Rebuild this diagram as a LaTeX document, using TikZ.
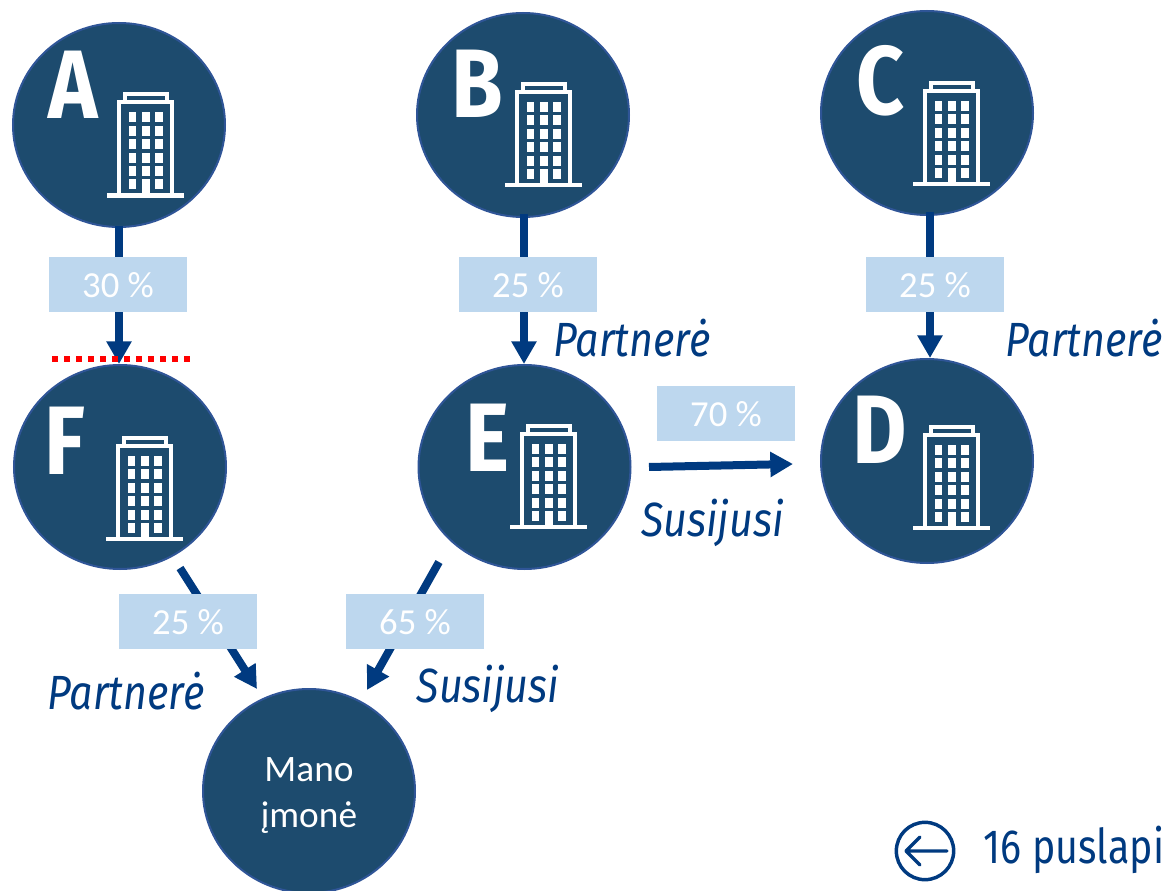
\documentclass[tikz,border=0pt]{standalone}
\usepackage{fontspec}
\usepackage{tikz}
\usetikzlibrary{arrows.meta,shapes.geometric}
\setmainfont{Carlito}
\newfontfamily\narrowfont[FakeStretch=0.82]{Fira Sans}
\newfontfamily\kindfont[FakeStretch=0.86]{Fira Sans}
\newfontfamily\letterfont[FakeStretch=0.86]{Fira Sans}

\definecolor{circlefill}{HTML}{1D4B6E}
\definecolor{circleedge}{HTML}{2F5597}
\definecolor{arrowblue}{HTML}{003A80}
\definecolor{boxblue}{HTML}{BDD7EE}

% office block, (#1,#2) is the left end of the base bar
\newcommand{\building}[2]{
\begin{scope}[shift={(#1,#2)}]
\draw[white,line width=3.3pt] (0,0) -- (77,0);
\draw[white,line width=3pt] (12,0) -- (12,-93) -- (65,-93) -- (65,0);
\draw[white,line width=3pt] (17.5,-93) -- (17.5,-101) -- (59.5,-101) -- (59.5,-93);
\foreach \y in {0,...,5} {
\foreach \x in {0,1,2} {
\fill[white] (21.7+13.3*\x,-83+13.4*\y) rectangle +(7.5,10);
}
}
\fill[white] (35,-16) rectangle (42.5,0);
\end{scope}
}

\tikzset{
firm/.style={draw=circleedge,line width=1.5pt,fill=circlefill,ellipse,inner sep=0pt,
  minimum width=159pt,minimum height=153pt,text=white,align=center,font=\fontsize{28}{34.5}\selectfont},
letter/.style={text=white,inner sep=0pt,font=\letterfont\bfseries\fontsize{73}{73}\selectfont},
share/.style={fill=boxblue,text=white,inner sep=0pt,minimum width=103.5pt,minimum height=41pt,
  text height=19pt,text depth=0pt,font=\fontsize{27.5}{27.5}\selectfont},
kind/.style={text=arrowblue,inner sep=0pt,font=\kindfont\itshape\fontsize{36}{36}\selectfont},
link/.style={draw=arrowblue,line width=6pt,-{Triangle[width=18pt,length=17pt]}},
}

\begin{document}
\begin{tikzpicture}[x=0.75pt,y=-0.75pt]
\useasboundingbox (0,0) rectangle (1165,891);

\node[firm] (A) at (119,125) {};
\node[firm] (B) at (523,115) {};
\node[firm] (C) at (927,113) {};
\node[firm] (F) at (120,467) {};
\node[firm] (E) at (524.5,467) {};
\node[firm] (D) at (927,461) {};
\node[firm] (mano) at (309,791) {\rule{0pt}{25.5pt}Mano\\įmonė};

\node[letter] (lA) at (73,85) {A};
\node[letter] (lB) at (477,84) {B};
\node[letter] (lC) at (881,81) {C};
\node[letter] (lF) at (65,441) {F};
\node[letter] (lE) at (488,438) {E};
\node[letter] (lD) at (880,430) {D};

\building{107}{195.5}
\building{505}{185}
\building{913}{184}
\building{106}{539}
\building{510}{527}
\building{913}{528}

\coordinate (Aout) at (119,226);
\coordinate (Fin) at (119,364);
\coordinate (Bout) at (524,214);
\coordinate (Ein) at (524,364);
\coordinate (Cout) at (930,212);
\coordinate (Din) at (930,358);
\coordinate (Eout) at (649,467);
\coordinate (Dleft) at (793,464);
\coordinate (Fout) at (180,568);
\coordinate (manoF) at (257,689);
\coordinate (Edown) at (439,562);
\coordinate (manoE) at (367,690);

\draw[link] (Aout) -- (Fin);
\draw[link] (Bout) -- (Ein);
\draw[link] (Cout) -- (Din);
\draw[link] (Eout) -- (Dleft);
\draw[link] (Fout) -- (manoF);
\draw[link] (Edown) -- (manoE);

\coordinate (redL) at (52,359);
\coordinate (redR) at (190,359);
\draw[red,line width=4.5pt,dash pattern=on 4.5pt off 4.5pt] (redL) -- (redR);

\node[share] (s30) at (118,284.5) {30 \%};
\node[share] (s25b) at (528,284.5) {25 \%};
\node[share] (s25c) at (935,284.5) {25 \%};
\node[share] (s70) at (726,413.5) {70 \%};
\node[share] (s25f) at (188,621.5) {25 \%};
\node[share] (s65) at (415,621.5) {65 \%};

\node[kind] (k1) at (632,338) {Partnerė};
\node[kind] (k2) at (1084,338) {Partnerė};
\node[kind] (k3) at (712.5,523) {Susijusi};
\node[kind] (k4) at (126,691) {Partnerė};
\node[kind] (k5) at (488,689) {Susijusi};

\node[draw=arrowblue,line width=2.6pt,circle,inner sep=0pt,minimum size=43pt] (back) at (925,851) {};
\coordinate (backR) at (947,851);
\coordinate (backL) at (906,851);
\draw[arrowblue,line width=2.6pt,line cap=round,line join=round] (backR) -- (backL) +(14,-14) -- (backL) -- +(14,14);
\node[text=arrowblue,inner sep=0pt,font=\narrowfont\fontsize{36}{36}\selectfont] (pages) at (1074,850) {16 puslapi};
\end{tikzpicture}
\end{document}
